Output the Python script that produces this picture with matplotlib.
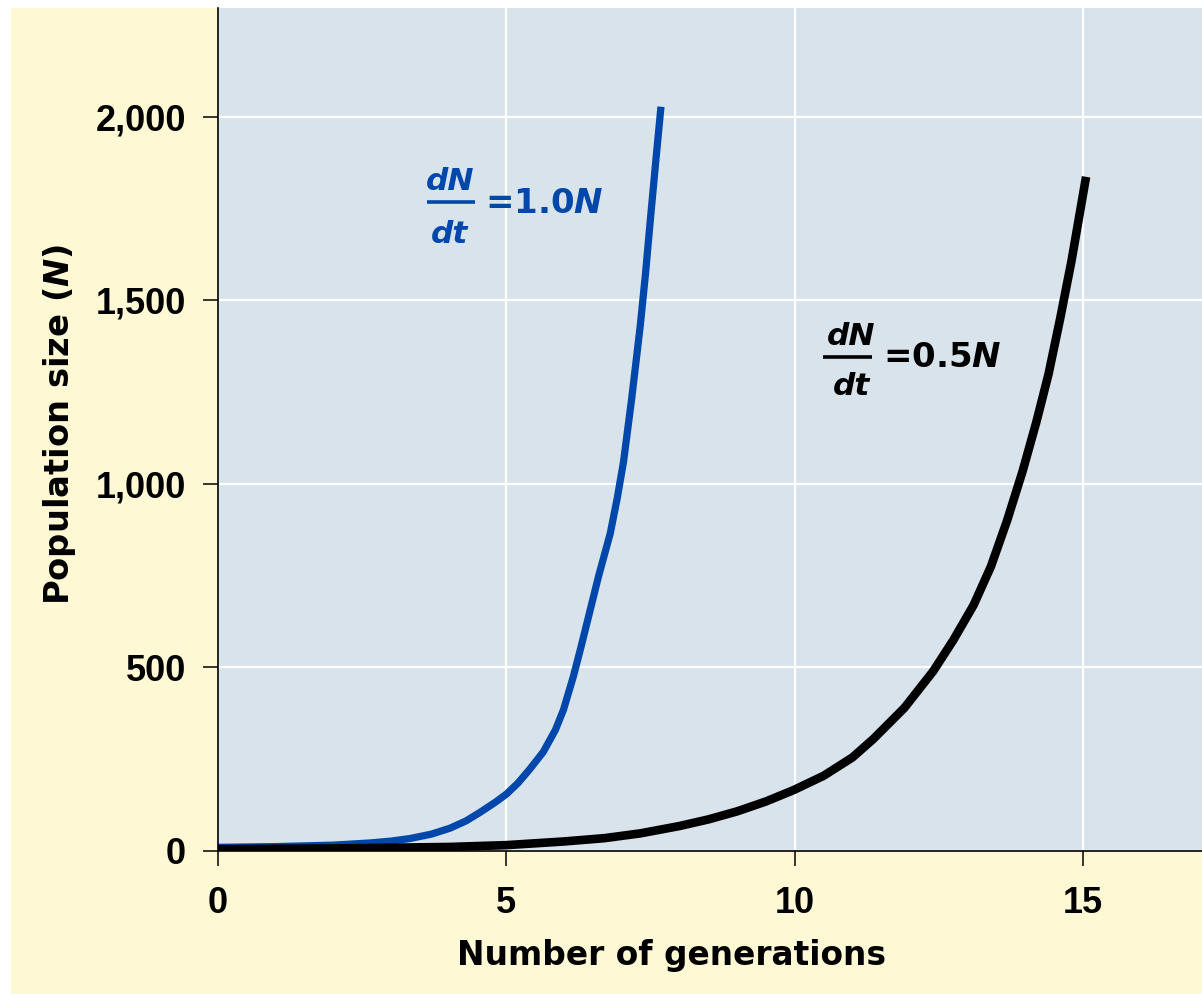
import numpy as np
import matplotlib.pyplot as plt
from matplotlib.patches import Rectangle
from matplotlib.ticker import FuncFormatter

plt.rcParams['mathtext.fontset'] = 'custom'
plt.rcParams['mathtext.rm'] = 'DejaVu Sans:bold'
plt.rcParams['mathtext.it'] = 'DejaVu Sans:italic:bold'

# values
gen_fast = [0, 1, 2, 2.64, 3.0, 3.33, 3.7, 4.02, 4.3, 4.54, 4.8, 5.0, 5.2, 5.4, 5.64, 5.85, 5.99,
            6.16, 6.3, 6.45, 6.6, 6.8, 6.92, 7.03, 7.17, 7.32, 7.41, 7.49, 7.59, 7.68]
pop_fast = [10, 12, 16, 22, 27, 34, 46, 62, 82, 105, 132, 155, 185, 222, 270, 330, 385,
            475, 560, 655, 750, 865, 960, 1060, 1230, 1430, 1570, 1710, 1880, 2028]

gen_slow = [0, 1, 2, 3, 4, 5, 6, 6.7, 7.32, 8, 8.5, 9, 9.5, 9.98, 10.5, 11.0, 11.36, 11.9,
            12.4, 12.75, 13.1, 13.4, 13.68, 13.95, 14.19, 14.4, 14.6, 14.8, 15.05]
pop_slow = [5, 6, 7, 9, 11, 16, 26, 35, 48, 68, 86, 108, 135, 166, 205, 255, 305, 390,
            490, 575, 670, 775, 900, 1035, 1170, 1300, 1450, 1610, 1837]

x_ticks = [0, 5, 10, 15]
y_ticks = [0, 500, 1000, 1500, 2000]

blue = '#0047ab'
cream = '#fef8d4'
panel = '#d8e3ec'

fig = plt.figure(figsize=(12.02, 9.94), dpi=100, facecolor='white')
fig.add_artist(Rectangle((11 / 1202, 0), 1, 986 / 994, transform=fig.transFigure,
                         facecolor=cream, edgecolor='none', zorder=-5))

ax = fig.add_axes([218 / 1202, 143 / 994, 984 / 1202, 843 / 994])
ax.set_zorder(2)
ax.set_facecolor(panel)

ax.plot(gen_fast, pop_fast, color=blue, lw=5.2, solid_capstyle='butt',
        solid_joinstyle='round', zorder=3)
ax.plot(gen_slow, pop_slow, color='black', lw=6.2, solid_capstyle='butt',
        solid_joinstyle='round', zorder=3)

ax.set_xlim(0, 17.06)
ax.set_ylim(0, 2297)
ax.set_xticks(x_ticks)
ax.set_yticks(y_ticks)
ax.yaxis.set_major_formatter(FuncFormatter(lambda v, p: '{:,.0f}'.format(v)))
ax.grid(True, color='white', lw=1.6, zorder=1)
ax.set_axisbelow(True)

for s in ['top', 'right']:
    ax.spines[s].set_visible(False)
for s in ['left', 'bottom']:
    ax.spines[s].set_linewidth(1.2)
    ax.spines[s].set_zorder(4)

ax.tick_params(axis='both', direction='out', length=11, width=1.1, colors='black')
ax.tick_params(axis='y', pad=12)
ax.tick_params(axis='x', pad=14)
for lab in ax.get_xticklabels() + ax.get_yticklabels():
    lab.set_fontfamily('Liberation Sans')
    lab.set_fontweight('bold')
    lab.set_fontsize(26)

ax.set_xlabel('Number of generations', fontfamily='DejaVu Sans', fontweight='bold',
              fontsize=23.7, va='center')
ax.xaxis.set_label_coords(0.461, -0.124)
ax.set_ylabel('Population size ($\\mathit{N}$)', fontfamily='DejaVu Sans', fontweight='bold',
              fontsize=24.3, va='center')
ax.yaxis.set_label_coords(-0.161, 0.506)


def rate_label(x_frac, x0, x1, y_bar, y_top, y_bot, x_eq, y_eq, text, color):
    kw = dict(fontfamily='DejaVu Sans', fontweight='bold', color=color, zorder=5)
    ax.text(x_frac, y_top, 'dN', ha='center', va='baseline', fontstyle='italic', fontsize=22.5, **kw)
    ax.text(x_frac, y_bot, 'dt', ha='center', va='baseline', fontstyle='italic', fontsize=22.5, **kw)
    ax.plot([x0, x1], [y_bar, y_bar], color=color, lw=2.6, solid_capstyle='butt', zorder=5)
    ax.text(x_eq, y_eq, text, ha='left', va='baseline', fontsize=24.5, **kw)


rate_label(4.02, 3.62, 4.46, 1768, 1801, 1657, 4.63, 1738, '=1.0$\\mathit{N}$', blue)
rate_label(10.98, 10.49, 11.34, 1346, 1379, 1243, 11.53, 1319, '=0.5$\\mathit{N}$', 'black')

fig.savefig('out.png', dpi=100, facecolor=fig.get_facecolor())
